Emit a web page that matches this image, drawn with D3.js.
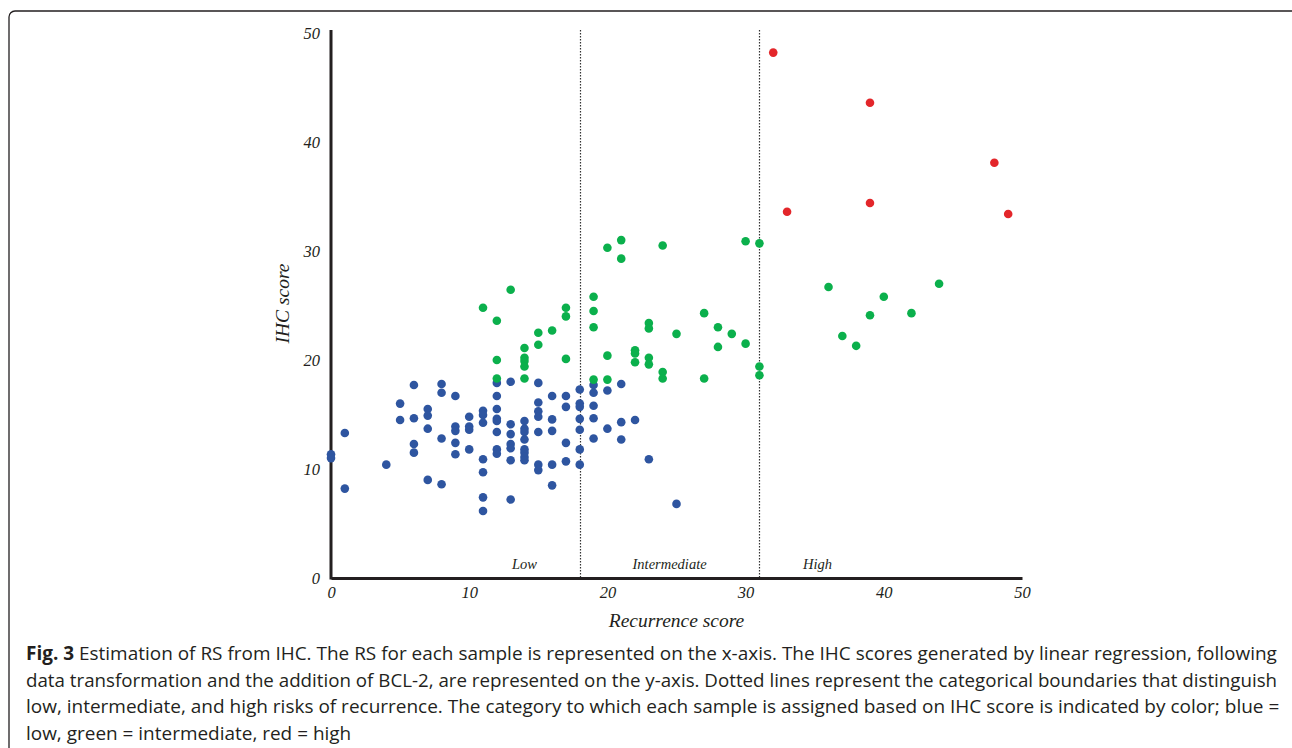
<!DOCTYPE html>
<meta charset="utf-8">
<style>
    body { margin: 0; background: #fff; }
    .tick text, .axisTitle, .zone {
        font-family: "Liberation Serif", "Times New Roman", serif;
        font-style: italic;
        fill: #231f20;
    }
    .domain { stroke: #231f20; stroke-width: 3px; }
    .cutoff { stroke: #333; stroke-width: 1.2px; stroke-dasharray: 1.5, 1.5; }
    .caption { font-family: "Open Sans", sans-serif; font-size: 19px; fill: #231f20; }
</style>

<svg width="1292" height="748"></svg>
<script src="https://cdn.jsdelivr.net/npm/d3@7"></script>
<script>

    // low (blue) samples: recurrence score, IHC score
    var lowRS = [6, 8, 8, 9, 5, 5, 6, 7, 7, 7, 8, 9, 9, 9, 9, 6, 6, 1, 0, 0, 4, 7, 8, 1,
        12, 13, 15, 12, 16, 17, 18, 15, 17, 18, 18, 11, 11, 10, 12, 15, 15, 12, 12, 11, 16, 18, 13, 14,
        10, 10, 12, 13, 14, 14, 15, 16, 18, 14, 10, 12, 12, 13, 13, 14, 14, 14, 14, 17, 18, 11, 13,
        15, 15, 16, 17, 18, 11, 16, 11, 13, 11,
        19, 21, 19, 20, 19, 19, 21, 22, 20, 19, 21, 23, 25];
    var lowIHC = [17.7, 17.8, 17.0, 16.7, 16.0, 14.5, 14.65, 15.5, 14.9, 13.7, 12.8, 13.9, 13.5, 12.4, 11.35, 12.3, 11.5, 13.3, 11.35, 11.0, 10.4, 9.0, 8.6, 8.2,
        17.9, 18.0, 17.9, 16.7, 16.7, 16.7, 17.3, 16.1, 15.7, 16.0, 15.7, 15.35, 14.95, 14.8, 15.5, 15.3, 14.8, 14.6, 14.4, 14.25, 14.55, 14.6, 14.1, 14.4,
        13.9, 13.6, 13.4, 13.2, 13.7, 13.4, 13.4, 13.5, 13.6, 12.7, 11.8, 11.8, 11.4, 12.3, 11.9, 11.8, 11.5, 11.1, 10.8, 12.4, 11.8, 10.9, 10.8,
        10.4, 9.9, 10.4, 10.7, 10.4, 9.7, 8.5, 7.4, 7.2, 6.15,
        17.7, 17.8, 17.0, 17.2, 15.8, 14.65, 14.3, 14.5, 13.7, 12.8, 12.7, 10.9, 6.8];

    // intermediate (green) samples
    var intRS = [12, 14, 19, 20, 24, 24, 27, 11, 12, 13, 15, 15, 16, 17, 17, 14, 14, 14, 14, 12, 17,
        19, 19, 19, 20, 21, 21, 20, 24, 30, 31, 27, 23, 23, 25, 28, 29, 28, 30, 22, 22, 22, 23, 23, 31, 31,
        36, 44, 40, 42, 39, 37, 38];
    var intIHC = [18.3, 18.3, 18.2, 18.2, 18.9, 18.3, 18.3, 24.8, 23.6, 26.45, 22.5, 21.4, 22.7, 24.8, 24.0, 21.1, 20.2, 19.9, 19.4, 20.0, 20.1,
        25.8, 24.5, 23.0, 30.3, 31.0, 29.3, 20.4, 30.5, 30.9, 30.7, 24.3, 23.4, 22.9, 22.4, 23.0, 22.4, 21.2, 21.5, 20.9, 20.6, 19.8, 20.2, 19.6, 19.4, 18.6,
        26.7, 27.0, 25.8, 24.3, 24.1, 22.2, 21.3];

    // high (red) samples
    var highRS = [32, 39, 48, 39, 33, 49];
    var highIHC = [48.2, 43.6, 38.1, 34.4, 33.6, 33.4];

    var xTicks = [0, 10, 20, 30, 40, 50];
    var yTicks = [0, 10, 20, 30, 40, 50];
    var cutoffs = [18, 31];
    var zones = [{ name: "Low", x: 14 }, { name: "Intermediate", x: 24.5 }, { name: "High", x: 35.2 }];

    var groups = [
        { rs: lowRS, ihc: lowIHC, color: "#2e55a0" },
        { rs: intRS, ihc: intIHC, color: "#0bb04c" },
        { rs: highRS, ihc: highIHC, color: "#e3262a" }];

    var svg = d3.select("svg");

    // figure frame
    svg.append("rect")
        .attr("x", 9).attr("y", 11)
        .attr("width", 1310).attr("height", 800)
        .attr("rx", 6)
        .attr("fill", "none")
        .attr("stroke", "#231f20")
        .attr("stroke-width", 1.3);

    var xScale = d3.scaleLinear().domain([0, 50]).range([331, 1022]);
    var yScale = d3.scaleLinear().domain([0, 50]).range([578, 33]);

    // dotted category boundaries
    svg.append("g").selectAll("line")
        .data(cutoffs)
        .enter().append("line")
        .attr("class", "cutoff")
        .attr("x1", function (d) { return Math.round(xScale(d)) + 0.5; })
        .attr("x2", function (d) { return Math.round(xScale(d)) + 0.5; })
        .attr("y1", yScale(50) - 3)
        .attr("y2", yScale(0));

    svg.append("g")
        .attr("transform", "translate(0," + yScale(0) + ")")
        .call(d3.axisBottom(xScale).tickValues(xTicks).tickSize(0).tickPadding(8))
        .call(function (g) { g.attr("font-family", null).attr("font-size", 16.5); });

    svg.append("g")
        .attr("transform", "translate(" + xScale(0) + ",0)")
        .call(d3.axisLeft(yScale).tickValues(yTicks).tickSize(0).tickPadding(11))
        .call(function (g) {
            g.attr("font-family", null).attr("font-size", 16.5);
            g.select(".domain").attr("d", "M0," + (yScale(0) + 1.5) + "V" + (yScale(50) - 3));
        });

    svg.append("g").selectAll("text")
        .data(zones)
        .enter().append("text")
        .attr("class", "zone")
        .attr("x", function (d) { return xScale(d.x); })
        .attr("y", yScale(0) - 9)
        .attr("text-anchor", "middle")
        .attr("font-size", 14.5)
        .text(function (d) { return d.name; });

    svg.append("text")
        .attr("class", "axisTitle")
        .attr("x", (xScale(0) + xScale(50)) / 2)
        .attr("y", 627)
        .attr("text-anchor", "middle")
        .attr("font-size", 19.5)
        .text("Recurrence score");

    svg.append("text")
        .attr("class", "axisTitle")
        .attr("transform", "translate(289," + (yScale(25) - 2) + ") rotate(-90)")
        .attr("text-anchor", "middle")
        .attr("font-size", 19.5)
        .text("IHC score");

    // points
    groups.forEach(function (grp) {
        svg.append("g").selectAll("circle")
            .data(grp.rs.map(function (v, i) { return { x: v, y: grp.ihc[i] }; }))
            .enter().append("circle")
            .attr("cx", function (d) { return xScale(d.x); })
            .attr("cy", function (d) { return yScale(d.y); })
            .attr("r", 4.3)
            .attr("fill", grp.color);
    });

    // caption (condensed font is not installed, so lines are squeezed horizontally)
    var captionLines = [
        { bold: "Fig. 3", text: " Estimation of RS from IHC. The RS for each sample is represented on the x-axis. The IHC scores generated by linear regression, following", w: 1252 },
        { text: "data transformation and the addition of BCL-2, are represented on the y-axis. Dotted lines represent the categorical boundaries that distinguish", w: 1252 },
        { text: "low, intermediate, and high risks of recurrence. The category to which each sample is assigned based on IHC score is indicated by color; blue =", w: 1254 },
        { text: "low, green = intermediate, red = high" }];

    var cap = svg.append("g").attr("class", "caption");
    var texts = captionLines.map(function (ln, i) {
        var t = cap.append("text").attr("x", 0).attr("y", 0);
        if (ln.bold) t.append("tspan").attr("font-weight", "bold").text(ln.bold);
        t.append("tspan").text(ln.text);
        return t;
    });
    var squeeze = 1252 / texts[0].node().getComputedTextLength();
    texts.forEach(function (t, i) {
        var natural = t.node().getComputedTextLength();
        var k = captionLines[i].w ? captionLines[i].w / natural : squeeze;
        t.attr("transform", "translate(26," + (660 + i * 26.7) + ") scale(" + k + ",1)");
    });

</script>
